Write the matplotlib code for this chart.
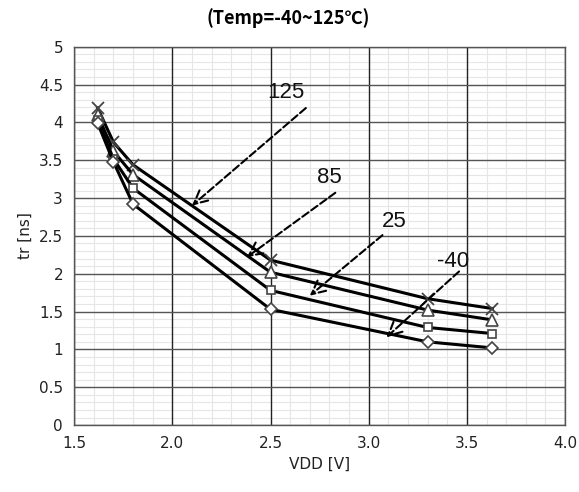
import numpy as np
import matplotlib
matplotlib.use('Agg')
import matplotlib.pyplot as plt

# VDD sweep and rise time per temperature
vdd = [1.62, 1.7, 1.8, 2.5, 3.3, 3.63]
tr_125 = [4.19, 3.74, 3.44, 2.18, 1.67, 1.54]
tr_85 = [4.10, 3.62, 3.31, 2.02, 1.52, 1.39]
tr_25 = [4.03, 3.52, 3.13, 1.78, 1.29, 1.21]
tr_m40 = [3.99, 3.48, 2.92, 1.53, 1.10, 1.02]

# annotation arrows: label, label pos, arrow start, arrow end
notes = [
    ('125', (2.58, 4.40), (2.68, 4.19), (2.10, 2.90)),
    ('85', (2.80, 3.27), (2.83, 3.07), (2.38, 2.22)),
    ('25', (3.13, 2.69), (3.07, 2.51), (2.70, 1.71)),
    ('-40', (3.43, 2.16), (3.46, 2.03), (3.09, 1.16)),
]

fig = plt.figure(figsize=(5.79, 4.92), dpi=100)
ax = fig.add_axes([0.128, 0.136, 0.848, 0.769])

ax.set_xlim(1.5, 4.0)
ax.set_ylim(0, 5)
xmaj = np.arange(1.5, 4.01, 0.5)
ymaj = np.arange(0, 5.01, 0.5)
xmin = np.arange(1.5, 4.01, 0.1)
ymin = np.arange(0, 5.01, 0.1)
ax.set_xticks(xmaj)
ax.set_xticklabels(['%.1f' % v for v in xmaj])
ax.set_yticks(ymaj)
ax.set_yticklabels(['%g' % v for v in ymaj])

# grid: light minor lines first, dark major lines on top
ax.vlines(xmin, 0, 5, color='#e6e6e6', lw=0.8, zorder=0.5)
ax.hlines(ymin, 1.5, 4.0, color='#e6e6e6', lw=0.8, zorder=0.5)
ax.vlines(xmaj, 0, 5, color='#222222', lw=1.0, zorder=0.6)
ax.hlines(ymaj, 1.5, 4.0, color='#555555', lw=1.0, zorder=0.6)

ax.tick_params(which='both', length=0, labelsize=11, colors='#222222', pad=8)
for s in ax.spines.values():
    s.set_color('#555555')
    s.set_linewidth(1.0)

ax.plot(vdd, tr_125, color='black', lw=2.2, marker='x', ms=9, mew=1.3, mec='#444444')
ax.plot(vdd, tr_85, color='black', lw=2.2, marker='^', ms=8, mew=1.2, mec='#444444', mfc='white')
ax.plot(vdd, tr_25, color='black', lw=2.2, marker='s', ms=6, mew=1.2, mec='#444444', mfc='white')
ax.plot(vdd, tr_m40, color='black', lw=2.2, marker='D', ms=6, mew=1.2, mec='#444444', mfc='white')

for label, lpos, start, end in notes:
    ax.annotate('', xy=end, xytext=start,
                arrowprops=dict(arrowstyle='->', color='black', lw=1.5, ls='--',
                                mutation_scale=24, shrinkA=0, shrinkB=0))
    ax.text(lpos[0], lpos[1], label, fontsize=16, family='Liberation Sans',
            ha='center', va='center', color='#111111')

ax.set_xlabel('VDD [V]', fontsize=11, color='#222222', labelpad=4)
ax.set_ylabel('tr [ns]', fontsize=11, color='#222222', labelpad=4)
fig.text(288 / 579, 1 - 18 / 492, '(Temp=-40~125\u2103)', fontsize=13, fontweight='bold',
         family=['Noto Sans CJK KR', 'DejaVu Sans'], ha='center', va='center')

fig.savefig('out.png', dpi=100)
